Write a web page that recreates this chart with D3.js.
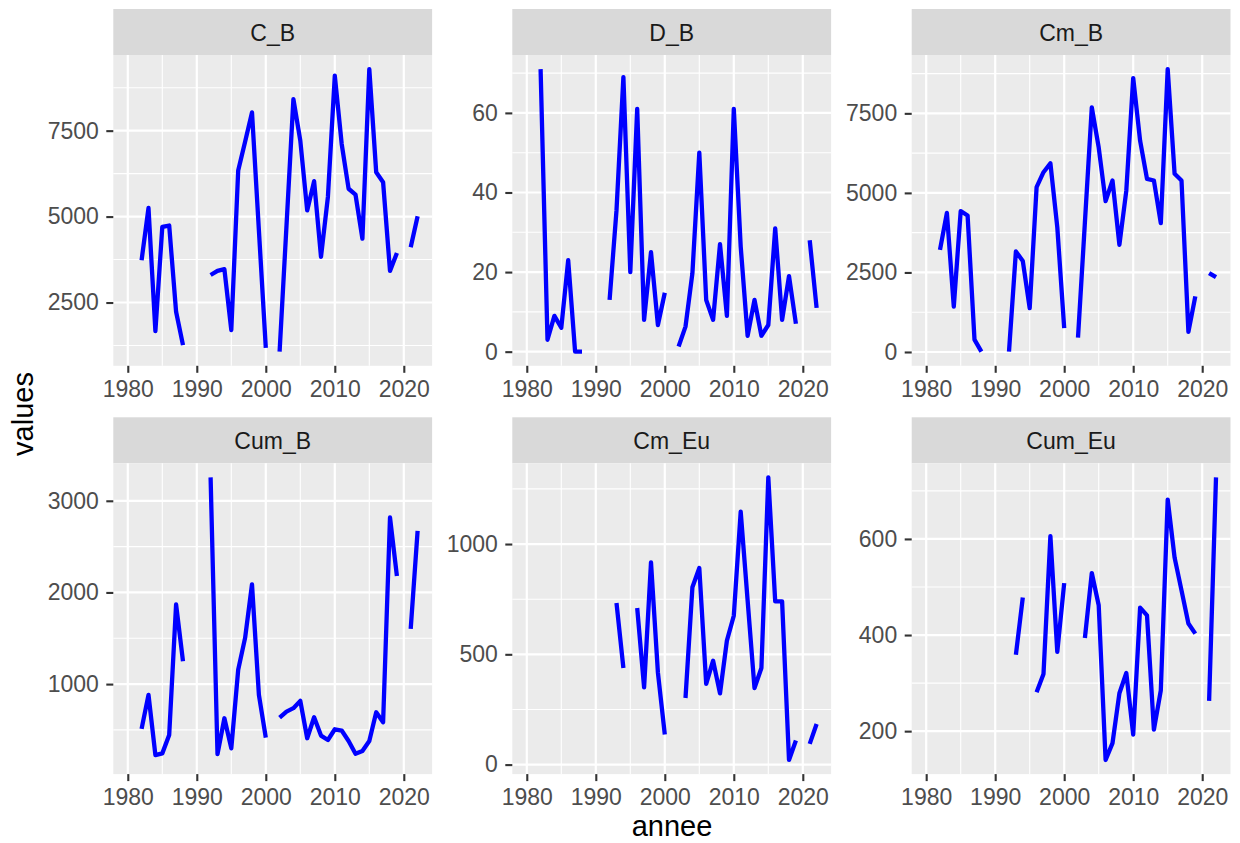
<!DOCTYPE html>
<html>
<head>
<meta charset="utf-8">
<script src="https://cdn.jsdelivr.net/npm/d3@7/dist/d3.min.js"></script>
<style>
  html, body { margin: 0; padding: 0; background: #ffffff; }
  svg { display: block; }
  text { font-family: "Liberation Sans", Arial, Helvetica, sans-serif; }
</style>
</head>
<body>
<svg id="chart" width="1240" height="843"></svg>
<script>
// ---------------- data ----------------
const years = d3.range(1980, 2023); // 1980 .. 2022

const C_B = [null, null, 3730, 5250, 1670, 4700, 4740, 2230, 1260, null,
  null, null, 3300, 3420, 3470, 1700, 6340, 7180, 8030, 4600,
  1180, null, 1070, 4740, 8420, 7210, 5180, 6030, 3830, 5570,
  9100, 7110, 5810, 5640, 4360, 9290, 6290, 6000, 3420, 3940,
  null, 4110, 5010];

const D_B = [null, null, 71, 3, 9, 6, 23, 0, 0, null,
  null, null, 13, 35.5, 69, 20, 61, 8, 25, 6.7,
  14.8, null, 1.3, 6.3, 19.7, 50, 13, 8, 27, 9,
  61, 26.4, 4, 13, 4, 6.7, 31, 8, 19, 7,
  null, 28, 11];

const Cm_B = [null, null, 3210, 4370, 1430, 4430, 4290, 390, 10, null,
  null, null, 10, 3160, 2860, 1380, 5180, 5650, 5930, 3920,
  750, null, 450, 4070, 7690, 6430, 4740, 5390, 3370, 5070,
  8610, 6640, 5440, 5390, 4050, 8890, 5600, 5390, 630, 1750,
  null, 2480, 2350];

// 1990: isolated year (not drawn as a line, but part of the scale range)
const Cum_B = [null, null, 511, 883, 225, 244, 445, 1869, 1248, null,
  172, null, 3255, 235, 627, 299, 1157, 1504, 2088, 883,
  416, null, 635, 700, 737, 817, 409, 638, 438, 390,
  507, 493, 379, 240, 270, 379, 693, 584, 2818, 2179,
  null, 1602, 2672];

const Cm_Eu = [null, null, null, null, null, null, null, null, null, null,
  null, null, null, 733, 438, null, 710, 350, 917, 418,
  136, null, null, 302, 804, 891, 366, 471, 323, 562,
  675, 1147, 745, 347, 438, 1302, 740, 740, 21, 109,
  null, 94, 184];

const Cum_Eu = [null, null, null, null, null, null, null, null, null, null,
  null, null, null, 359, 478, null, 281, 319, 606, 365,
  508, null, null, 394, 529, 462, 140, 175, 279, 321,
  193, 457, 441, 203, 285, 682, 561, 493, 424, 403,
  null, 263, 728];

const panelNames = ["C_B", "D_B", "Cm_B", "Cum_B", "Cm_Eu", "Cum_Eu"];
const seriesValues = [C_B, D_B, Cm_B, Cum_B, Cm_Eu, Cum_Eu];
const yTickValues = [
  [2500, 5000, 7500],
  [0, 20, 40, 60],
  [0, 2500, 5000, 7500],
  [1000, 2000, 3000],
  [0, 500, 1000],
  [200, 400, 600]
];
const xTickValues = [1980, 1990, 2000, 2010, 2020];
const xTitle = "annee";
const yTitle = "values";

// ---------------- layout ----------------
const colLeft = [113.3, 512.3, 911.7];
const panelW = 318.8;
const stripTop = [9, 417.3];
const stripH = 46;
const panelH = 310.8;

const bgPanel = "#EBEBEB";
const bgStrip = "#D9D9D9";
const lineColor = "#0000FF";

const svg = d3.select("#chart");

function expandDomain(vals) {
  const ext = d3.extent(vals.filter(v => v != null));
  const pad = (ext[1] - ext[0]) * 0.05;
  return [ext[0] - pad, ext[1] + pad];
}
function minorBreaks(major, domain) {
  const step = major[1] - major[0];
  const out = [];
  const all = [major[0] - step, ...major, major[major.length - 1] + step];
  for (let i = 0; i < all.length - 1; i++) out.push((all[i] + all[i + 1]) / 2);
  return out.filter(v => v >= domain[0] && v <= domain[1]);
}

const xDomainBase = d3.extent(years);
const xPad = (xDomainBase[1] - xDomainBase[0]) * 0.05;
const xDomain = [xDomainBase[0] - xPad, xDomainBase[1] + xPad];

panelNames.forEach((name, i) => {
  const col = i % 3, row = Math.floor(i / 3);
  const left = colLeft[col];
  const sTop = stripTop[row];
  const pTop = sTop + stripH;
  const pBottom = pTop + panelH;

  const x = d3.scaleLinear().domain(xDomain).range([left, left + panelW]);
  const yDomain = expandDomain(seriesValues[i]);
  const y = d3.scaleLinear().domain(yDomain).range([pBottom, pTop]);

  const g = svg.append("g");

  // strip
  g.append("rect").attr("x", left).attr("y", sTop).attr("width", panelW).attr("height", stripH).attr("fill", bgStrip);
  g.append("text").attr("x", left + panelW / 2).attr("y", sTop + stripH / 2 + 8.5)
    .attr("text-anchor", "middle").attr("font-size", 23).attr("fill", "#1A1A1A").text(name);

  // panel background
  g.append("rect").attr("x", left).attr("y", pTop).attr("width", panelW).attr("height", panelH).attr("fill", bgPanel);

  // minor grid
  const xMinor = minorBreaks(xTickValues, xDomain);
  const yMinor = minorBreaks(yTickValues[i], yDomain);
  g.selectAll(".xminor").data(xMinor).enter().append("line")
    .attr("x1", d => x(d)).attr("x2", d => x(d)).attr("y1", pTop).attr("y2", pBottom)
    .attr("stroke", "#fff").attr("stroke-width", 1.1);
  g.selectAll(".yminor").data(yMinor).enter().append("line")
    .attr("x1", left).attr("x2", left + panelW).attr("y1", d => y(d)).attr("y2", d => y(d))
    .attr("stroke", "#fff").attr("stroke-width", 1.1);
  // major grid
  g.selectAll(".xmajor").data(xTickValues).enter().append("line")
    .attr("x1", d => x(d)).attr("x2", d => x(d)).attr("y1", pTop).attr("y2", pBottom)
    .attr("stroke", "#fff").attr("stroke-width", 2.2);
  g.selectAll(".ymajor").data(yTickValues[i]).enter().append("line")
    .attr("x1", left).attr("x2", left + panelW).attr("y1", d => y(d)).attr("y2", d => y(d))
    .attr("stroke", "#fff").attr("stroke-width", 2.2);

  // data line (like geom_line: a value with no defined neighbour draws nothing)
  const vals = seriesValues[i];
  const pts = years.map((yr, k) => {
    const v = vals[k];
    const hasNeighbour = (k > 0 && vals[k - 1] != null) || (k < vals.length - 1 && vals[k + 1] != null);
    return { yr: yr, v: v, draw: v != null && hasNeighbour };
  });
  const line = d3.line().defined(d => d.draw).x(d => x(d.yr)).y(d => y(d.v));
  g.append("path").datum(pts).attr("d", line)
    .attr("fill", "none").attr("stroke", lineColor).attr("stroke-width", 4.3)
    .attr("stroke-linejoin", "round").attr("stroke-linecap", "butt");

  // x axis
  const xAxis = d3.axisBottom(x).tickValues(xTickValues).tickSize(7).tickPadding(7.5).tickFormat(d3.format("d"));
  const xa = g.append("g").attr("transform", `translate(0,${pBottom})`).call(xAxis);
  xa.select(".domain").remove();
  xa.selectAll(".tick line").attr("stroke", "#333333").attr("stroke-width", 2.1);
  xa.selectAll(".tick text").attr("font-size", 23).attr("fill", "#4D4D4D")
    .attr("font-family", "'Liberation Sans', Arial, sans-serif");

  // y axis
  const yAxis = d3.axisLeft(y).tickValues(yTickValues[i]).tickSize(7).tickPadding(7.5).tickFormat(d3.format("d"));
  const ya = g.append("g").attr("transform", `translate(${left},0)`).call(yAxis);
  ya.select(".domain").remove();
  ya.selectAll(".tick line").attr("stroke", "#333333").attr("stroke-width", 2.1);
  ya.selectAll(".tick text").attr("font-size", 23).attr("fill", "#4D4D4D")
    .attr("font-family", "'Liberation Sans', Arial, sans-serif");
});

// axis titles
svg.append("text").attr("x", 672).attr("y", 836).attr("text-anchor", "middle")
  .attr("font-size", 29).attr("fill", "#000").text(xTitle);
svg.append("text").attr("transform", "translate(33,414) rotate(-90)").attr("text-anchor", "middle")
  .attr("font-size", 29).attr("fill", "#000").text(yTitle);
</script>
</body>
</html>
